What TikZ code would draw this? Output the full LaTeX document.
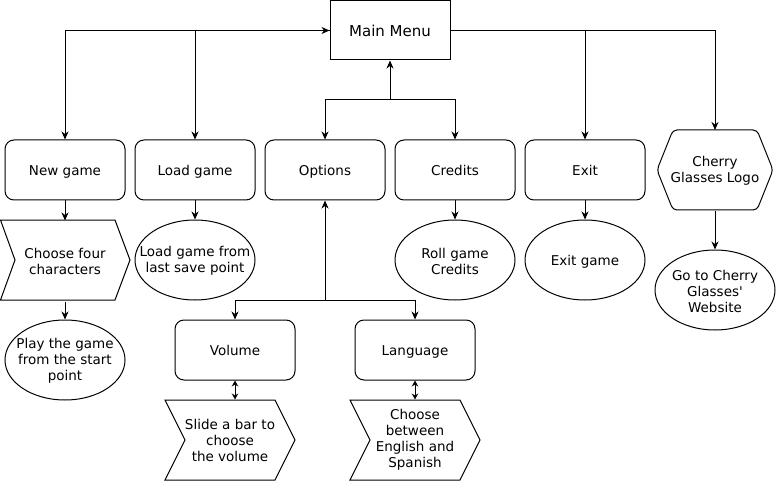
\documentclass[tikz,border=0pt]{standalone}
\usepackage{fontspec}
\setmainfont{DejaVu Sans}[Ligatures=TeXOff]
\usetikzlibrary{arrows.meta,shapes.geometric}
\begin{document}
\begin{tikzpicture}[x=1pt,y=-1pt,line width=1pt,
 every node/.style={font=\fontsize{13.5}{16}\selectfont, inner sep=0pt, align=center},
 sline/.style={text height=11.5pt, text depth=0.5pt},
 box/.style={draw, rounded corners=9pt, minimum width=120pt, minimum height=60pt, sline},
 ell/.style={draw, ellipse, minimum width=120pt, minimum height=80pt},
 area/.style={minimum width=130pt, minimum height=80pt},
 arr/.style={-{Stealth[length=8pt,width=7pt,inset=2.5pt]}},
 darr/.style={{Stealth[length=6pt,width=6.5pt,inset=2pt]}-{Stealth[length=6pt,width=6.5pt,inset=2pt]}},
 barr/.style={{Stealth[length=8pt,width=7pt,inset=2.5pt]}-{Stealth[length=8pt,width=7pt,inset=2.5pt]}}
]
\useasboundingbox (0,0) rectangle (776,481);

% main menu
\node[draw, minimum width=120pt, minimum height=59pt, font=\fontsize{15}{18}\selectfont, text height=12pt, text depth=0.5pt] (mm) at (390,30.5) {Main Menu};

% top row
\node[box] (new)  at (65,170)  {New game};
\node[box] (load) at (195,170) {Load game};
\node[box] (opt)  at (325,170) {Options};
\node[box] (cred) at (455,170) {Credits};
\node[box] (exit) at (585,170) {Exit};
\node[minimum width=116pt, minimum height=80pt] (logo) at (715,171) {Cherry\\Glasses Logo};
\draw[rounded corners=4pt] (715,130) -- (757,130) -- (773,170) -- (757,210) -- (673,210) -- (657,170) -- (673,130) -- cycle;

% second row
\node[area] (ch1) at (65,261) {Choose four\\characters};
\draw (60,220) -- (115,220) -- (130,260) -- (115,300) -- (0.5,300) -- (15,260) -- (0.5,220) -- cycle;
\node[ell] (lg) at (195,260) {};
\node at ([yshift=-1pt]lg.center) {Load game from\\last save point};
\node[ell] (roll) at (455,260) {};
\node at ([yshift=-1pt]roll.center) {Roll game\\Credits};
\node[ell] (exg) at (585,260) {};
\node[sline] at (exg) {Exit game};
\node[ell] (web) at (715,290) {};
\node at ([yshift=-1pt]web.center) {Go to Cherry\\Glasses'\\Website};
\node[ell] (play) at (65,360) {};
\node at ([yshift=-1pt]play.center) {Play the game\\from the start\\point};

% options children
\node[box] (vol)  at (235,350) {Volume};
\node[box] (lang) at (415,350) {Language};
\node[area] (slide) at (230,440) {Slide a bar to\\choose\\the volume};
\draw (200,400) -- (275,400) -- (295,440) -- (275,480) -- (165,480) -- (185,440) -- (165,400) -- cycle;
\node[area] (ceng) at (415,440) {Choose\\between\\English and\\Spanish};
\draw (400,400) -- (460,400) -- (480,440) -- (460,480) -- (350,480) -- (370,440) -- (350,400) -- cycle;

% connectors from main menu
\draw[barr] (new.north) |- (mm.west);
\draw[arr] (mm.west) -| (load.north);
\draw[arr] (mm.east) -| (exit.north);
\draw[arr] (mm.east) -| (715,130);
\coordinate (oc) at (390,100);
\draw[arr] (oc) -- (mm.south);
\draw[arr] (oc) -| (opt.north);
\draw[arr] (oc) -| (cred.north);

% down connectors
\draw[arr] (new.south) -- (ch1.north);
\draw[arr] (ch1.south) -- (play.north);
\draw[arr] (load.south) -- (lg.north);
\draw[arr] (cred.south) -- (roll.north);
\draw[arr] (exit.south) -- (exg.north);
\draw[arr] (logo.south) -- (web.north);

% options
\coordinate (vc) at (325,300);
\draw[arr] (vc) -- (opt.south);
\draw[arr] (vc) -| (vol.north);
\draw[arr] (vc) -| (lang.north);
\draw[darr] (vol.south) -- (vol.south |- slide.north);
\draw[darr] (lang.south) -- (lang.south |- ceng.north);
\end{tikzpicture}
\end{document}
